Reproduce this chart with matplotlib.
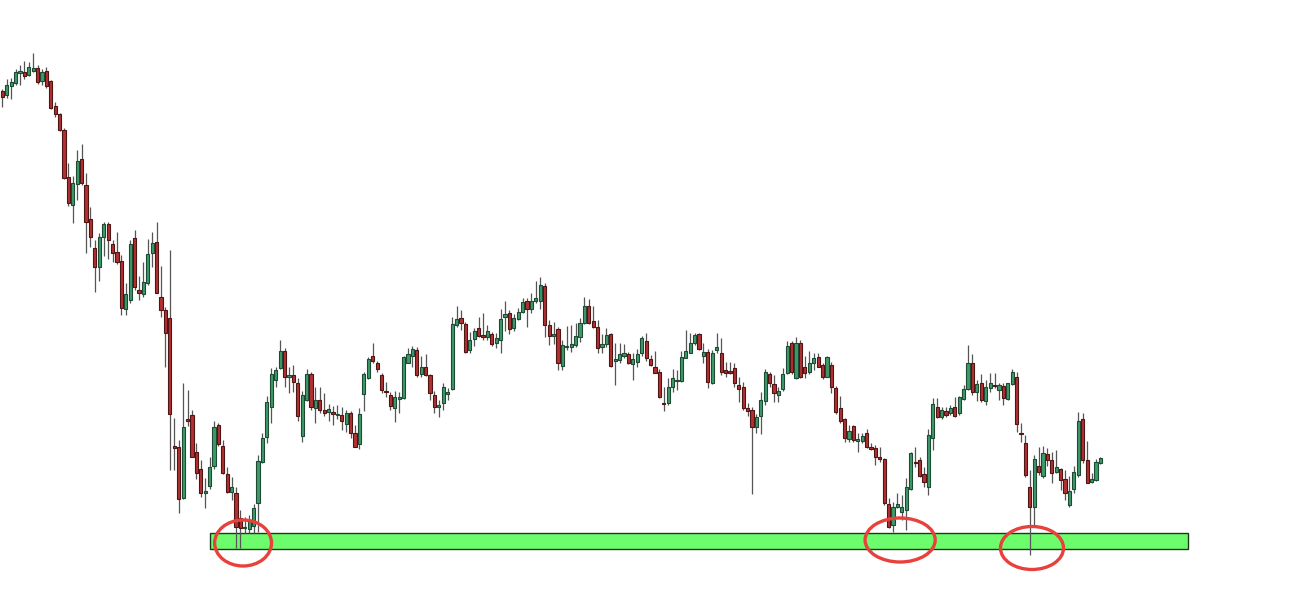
import numpy as np
import matplotlib.pyplot as plt
from matplotlib.patches import Ellipse, Rectangle

# candle prices (arbitrary units)
opens = [509, 505, 514, 517, 527, 528, 525, 529, 532, 519, 529, 519, 494, 486, 470, 423, 395, 416, 441, 415,
         381, 352, 333, 363, 376, 356, 348, 339, 291, 300, 362, 310, 306, 317, 347, 358, 303, 290, 282, 154,
         153, 102, 181, 185, 148, 131, 107, 114, 134, 175, 154, 126, 108, 107, 82, 72, 71, 74, 97, 138,
         163, 193, 220, 232, 249, 223, 225, 217, 164, 200, 226, 192, 200, 190, 188, 188, 185, 185, 176, 187,
         167, 156, 206, 222, 244, 237, 225, 209, 205, 192, 201, 202, 237, 244, 250, 226, 233, 225, 205, 193,
         197, 206, 211, 275, 282, 276, 250, 261, 272, 265, 263, 266, 257, 260, 283, 287, 272, 281, 288, 299,
         291, 299, 299, 314, 275, 264, 271, 234, 253, 253, 255, 263, 277, 294, 279, 273, 253, 256, 266, 239,
         240, 244, 246, 236, 238, 247, 259, 241, 233, 228, 197, 197, 213, 219, 219, 242, 247, 257, 266, 244,
         248, 217, 250, 247, 230, 229, 232, 215, 213, 192, 190, 173, 184, 199, 226, 216, 205, 211, 227, 257,
         222, 257, 233, 228, 237, 243, 235, 223, 235, 212, 192, 181, 161, 174, 159, 159, 167, 153, 152, 143,
         141, 96, 75, 93, 88, 90, 111, 138, 140, 126, 113, 162, 193, 183, 189, 187, 193, 187, 201, 211,
         237, 208, 217, 199, 212, 215, 210, 214, 201, 216, 223, 167, 157, 113, 93, 134, 124, 146, 140, 128,
         131, 121, 95, 111, 125, 181, 140, 118, 120, 137]
highs = [511, 521, 522, 531, 535, 539, 538, 547, 535, 531, 533, 520, 498, 487, 472, 437, 424, 450, 456, 427,
         393, 360, 367, 378, 378, 360, 368, 345, 317, 360, 370, 324, 338, 361, 368, 378, 334, 293, 350, 182,
         160, 217, 210, 190, 157, 140, 122, 143, 179, 177, 160, 133, 123, 113, 90, 83, 85, 96, 145, 167,
         204, 232, 233, 260, 252, 233, 235, 222, 209, 231, 228, 213, 213, 207, 196, 194, 195, 193, 190, 189,
         175, 192, 228, 243, 257, 239, 227, 218, 208, 209, 208, 244, 252, 254, 253, 244, 246, 226, 209, 200,
         217, 212, 283, 294, 290, 278, 268, 272, 283, 287, 275, 268, 267, 291, 299, 290, 286, 292, 302, 302,
         307, 319, 323, 317, 280, 278, 273, 260, 274, 275, 277, 282, 303, 301, 294, 280, 266, 272, 267, 257,
         257, 256, 248, 247, 251, 264, 267, 245, 249, 231, 213, 222, 231, 230, 249, 270, 267, 267, 267, 257,
         251, 250, 267, 262, 238, 238, 237, 223, 218, 197, 193, 186, 208, 231, 228, 225, 213, 232, 259, 259,
         263, 260, 244, 249, 247, 247, 237, 244, 238, 214, 204, 182, 175, 175, 167, 167, 171, 157, 155, 153,
         142, 102, 98, 107, 105, 122, 148, 153, 143, 133, 171, 202, 202, 193, 193, 195, 203, 204, 215, 255,
         246, 220, 226, 220, 227, 227, 217, 217, 217, 231, 228, 177, 165, 130, 145, 153, 154, 152, 148, 150,
         132, 130, 124, 134, 188, 187, 159, 127, 141, 143]
lows = [493, 502, 501, 515, 515, 521, 524, 528, 516, 515, 512, 491, 483, 469, 421, 394, 377, 400, 415, 347,
        353, 308, 319, 344, 341, 338, 336, 285, 285, 297, 310, 300, 303, 315, 333, 307, 283, 233, 130, 130,
        87, 101, 174, 143, 121, 103, 92, 111, 131, 154, 126, 107, 100, 52, 52, 67, 67, 67, 68, 137,
        157, 177, 213, 231, 213, 207, 208, 179, 158, 199, 190, 177, 187, 184, 179, 175, 181, 170, 168, 162,
        153, 151, 189, 221, 237, 228, 207, 203, 190, 178, 187, 201, 237, 233, 223, 223, 224, 200, 187, 183,
        190, 200, 210, 273, 270, 247, 247, 254, 263, 260, 260, 254, 252, 247, 269, 266, 269, 280, 287, 273,
        287, 297, 291, 263, 255, 256, 230, 230, 250, 248, 253, 258, 276, 276, 272, 247, 247, 253, 233, 215,
        237, 242, 236, 220, 233, 244, 239, 234, 227, 202, 189, 195, 208, 210, 218, 242, 247, 255, 250, 237,
        212, 216, 247, 225, 223, 226, 213, 198, 190, 184, 106, 167, 166, 195, 213, 198, 198, 209, 226, 226,
        221, 222, 222, 226, 230, 233, 221, 223, 207, 186, 177, 158, 158, 158, 148, 157, 152, 150, 135, 138,
        95, 72, 68, 92, 80, 70, 110, 133, 123, 113, 105, 150, 182, 181, 183, 185, 183, 185, 200, 210,
        205, 199, 198, 195, 208, 212, 200, 195, 200, 215, 168, 158, 123, 45, 73, 125, 122, 134, 117, 127,
        110, 100, 93, 107, 123, 137, 117, 117, 119, 136]
closes = [503, 515, 518, 528, 529, 524, 533, 532, 518, 528, 514, 492, 486, 470, 422, 397, 417, 439, 417, 378,
          363, 333, 363, 376, 360, 347, 338, 292, 306, 356, 313, 307, 318, 346, 357, 307, 290, 267, 186, 152,
          101, 173, 179, 143, 127, 107, 109, 133, 173, 156, 127, 108, 113, 73, 72, 73, 79, 92, 139, 162,
          198, 226, 230, 249, 223, 225, 218, 184, 205, 226, 193, 200, 190, 187, 191, 186, 186, 179, 187, 167,
          153, 186, 226, 241, 239, 231, 210, 208, 194, 203, 203, 243, 246, 251, 225, 233, 225, 207, 193, 195,
          213, 208, 276, 281, 277, 248, 260, 269, 264, 263, 269, 256, 262, 281, 286, 271, 282, 288, 298, 291,
          299, 302, 315, 275, 264, 266, 237, 255, 254, 256, 264, 277, 294, 277, 273, 252, 256, 265, 234, 241,
          246, 247, 237, 241, 246, 262, 242, 235, 227, 203, 196, 213, 222, 220, 243, 249, 257, 265, 251, 248,
          218, 247, 253, 228, 227, 227, 217, 211, 192, 189, 173, 183, 200, 228, 217, 207, 209, 226, 254, 228,
          257, 223, 227, 237, 242, 233, 223, 243, 213, 188, 179, 162, 169, 160, 161, 164, 153, 151, 143, 141,
          97, 73, 93, 96, 93, 113, 147, 137, 124, 118, 165, 196, 183, 190, 185, 192, 184, 203, 211, 237,
          208, 216, 200, 213, 217, 214, 215, 202, 217, 228, 176, 166, 125, 93, 141, 128, 147, 140, 127, 133,
          120, 107, 109, 128, 179, 140, 117, 121, 138, 142]

# support zone and the three touches
zone_low = 51
zone_high = 67
zone_start = 47.1
zone_end = 268.9
touches = [(54.6, 57, 12.9, 46), (203.6, 60, 15.9, 44), (233.5, 52, 14.3, 43)]

o = np.array(opens)
h = np.array(highs)
l = np.array(lows)
c = np.array(closes)
idx = np.arange(len(o))
up = c >= o

fig = plt.figure(figsize=(13.01, 6.03), dpi=100)
ax = fig.add_axes([0, 0, 1, 1])

ax.add_patch(Rectangle((zone_start, zone_low), zone_end - zone_start, zone_high - zone_low,
                       facecolor='#6cfc6c', edgecolor='#1a3a1a', linewidth=1, zorder=1))

# wicks
ax.vlines(idx, l, h, color='#555555', linewidth=0.9, zorder=2)

# bodies
body_h = np.maximum(np.abs(c - o), 1.5)
body_b = np.minimum(o, c)
ax.bar(idx[up], body_h[up], 0.72, bottom=body_b[up], color='#3d9a6b',
       edgecolor='#1d4a33', linewidth=0.8, zorder=3)
ax.bar(idx[~up], body_h[~up], 0.72, bottom=body_b[~up], color='#b33030',
       edgecolor='#4f1414', linewidth=0.8, zorder=3)

for x0, y0, w, hh in touches:
    ax.add_patch(Ellipse((x0, y0), w, hh, fill=False, edgecolor='#e8413c', linewidth=2.4, zorder=4))

ax.set_xlim(-0.52, 294.5)
ax.set_ylim(-3, 600)
ax.axis('off')

plt.savefig('out.png', dpi=100)
